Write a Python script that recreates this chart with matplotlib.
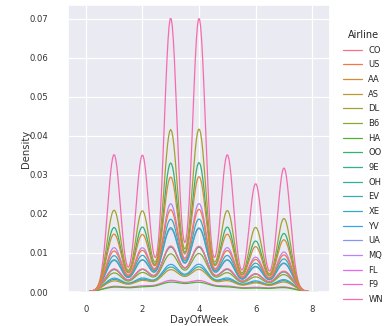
import numpy as np
import pandas as pd
import matplotlib
matplotlib.use("Agg")
import matplotlib.pyplot as plt
import seaborn as sns

days = [1, 2, 3, 4, 5, 6, 7]
airlines = ["CO", "US", "AA", "AS", "DL", "B6", "HA", "OO", "9E",
            "OH", "EV", "XE", "YV", "UA", "MQ", "FL", "F9", "WN"]

# flights per day of week (Mon..Sun) for each airline
CO = [720, 708, 1430, 1421, 718, 560, 650]
US = [1160, 1175, 2325, 2338, 1170, 918, 1050]
AA = [1552, 1540, 3080, 3092, 1548, 1215, 1400]
AS = [385, 392, 770, 780, 384, 312, 348]
DL = [2070, 2055, 4110, 4125, 2060, 1635, 1860]
B6 = [610, 618, 1220, 1230, 612, 480, 558]
HA = [192, 186, 380, 374, 190, 146, 174]
OO = [1695, 1708, 3390, 3400, 1705, 1340, 1540]
E9 = [702, 698, 1402, 1395, 700, 556, 630]
OH = [430, 424, 850, 856, 428, 335, 388]
EV = [950, 944, 1895, 1888, 946, 752, 854]
XE = [1050, 1056, 2100, 2106, 1052, 830, 955]
YV = [466, 462, 925, 930, 463, 370, 418]
UA = [932, 938, 1862, 1870, 936, 742, 842]
MQ = [1242, 1236, 2470, 2476, 1240, 975, 1122]
FL = [708, 702, 1410, 1404, 704, 560, 635]
F9 = [217, 221, 438, 434, 218, 175, 196]
WN = [3190, 3180, 6360, 6356, 3186, 2515, 2880]

counts = [CO, US, AA, AS, DL, B6, HA, OO, E9, OH, EV, XE, YV, UA, MQ, FL, F9, WN]

frames = []
for name, c in zip(airlines, counts):
    frames.append(pd.DataFrame({"Airline": name,
                                "DayOfWeek": np.repeat(days, c)}))
df = pd.concat(frames, ignore_index=True)

sns.set_theme(style="darkgrid")
plt.rcParams["font.family"] = ["DejaVu Sans"]

fig = plt.figure(figsize=(3.92, 3.26), dpi=100)
ax = fig.add_axes([68 / 392, 1 - 292 / 326, (330 - 68) / 392, (292 - 5) / 326])
sns.kdeplot(data=df, x="DayOfWeek", hue="Airline", hue_order=airlines,
            ax=ax, linewidth=0.9)

ax.tick_params(axis="both", labelsize=6.1, colors="#333333")
ax.tick_params(axis="y", pad=8)
ax.tick_params(axis="x", pad=3)
ax.set_xlabel("DayOfWeek", fontsize=7.2, color="#333333", labelpad=1)
ax.set_ylabel("Density", fontsize=7.2, color="#333333", labelpad=-1)
ax.grid(True, color="white", linewidth=0.9)

sns.move_legend(ax, "upper left", bbox_to_anchor=(1.019, 0.942), frameon=False,
                fontsize=6, title_fontsize=7, labelspacing=0.68,
                handlelength=2.2, borderaxespad=0.6)

fig.savefig("out.png", dpi=100)
